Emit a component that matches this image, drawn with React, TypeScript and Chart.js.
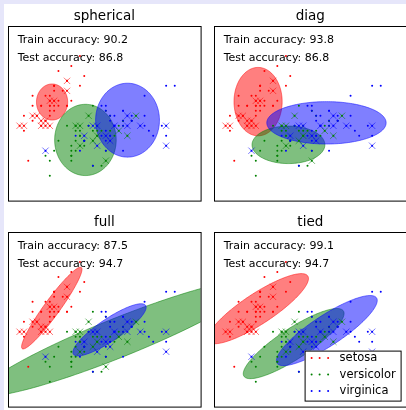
import React, { useEffect, useRef } from "react";
import { Chart, registerables } from "chart.js";
Chart.register(...registerables);

// ---------- data ----------
const classNames = ["setosa", "versicolor", "virginica"];
const classColors = ["#ff0000", "#008000", "#0000ff"];
const crossColors = ["rgba(255,0,0,0.6)", "rgba(0,128,0,0.6)", "rgba(0,0,255,0.6)"];
const ellipseColors = ["rgba(255,0,0,0.5)", "rgba(0,128,0,0.5)", "rgba(0,0,255,0.5)"];

// Iris sepal length / sepal width, per class
const setosaLength = [5.1,4.9,4.7,4.6,5.0,5.4,4.6,5.0,4.4,4.9,5.4,4.8,4.8,4.3,5.8,5.7,5.4,5.1,5.7,5.1,5.4,5.1,4.6,5.1,4.8,5.0,5.0,5.2,5.2,4.7,4.8,5.4,5.2,5.5,4.9,5.0,5.5,4.9,4.4,5.1,5.0,4.5,4.4,5.0,5.1,4.8,5.1,4.6,5.3,5.0];
const setosaWidth = [3.5,3.0,3.2,3.1,3.6,3.9,3.4,3.4,2.9,3.1,3.7,3.4,3.0,3.0,4.0,4.4,3.9,3.5,3.8,3.8,3.4,3.7,3.6,3.3,3.4,3.0,3.4,3.5,3.4,3.2,3.1,3.4,4.1,4.2,3.1,3.2,3.5,3.6,3.0,3.4,3.5,2.3,3.2,3.5,3.8,3.0,3.8,3.2,3.7,3.3];
const versicolorLength = [7.0,6.4,6.9,5.5,6.5,5.7,6.3,4.9,6.6,5.2,5.0,5.9,6.0,6.1,5.6,6.7,5.6,5.8,6.2,5.6,5.9,6.1,6.3,6.1,6.4,6.6,6.8,6.7,6.0,5.7,5.5,5.5,5.8,6.0,5.4,6.0,6.7,6.3,5.6,5.5,5.5,6.1,5.8,5.0,5.6,5.7,5.7,6.2,5.1,5.7];
const versicolorWidth = [3.2,3.2,3.1,2.3,2.8,2.8,3.3,2.4,2.9,2.7,2.0,3.0,2.2,2.9,2.9,3.1,3.0,2.7,2.2,2.5,3.2,2.8,2.5,2.8,2.9,3.0,2.8,3.0,2.9,2.6,2.4,2.4,2.7,2.7,3.0,3.4,3.1,2.3,3.0,2.5,2.6,3.0,2.6,2.3,2.7,3.0,2.9,2.9,2.5,2.8];
const virginicaLength = [6.3,5.8,7.1,6.3,6.5,7.6,4.9,7.3,6.7,7.2,6.5,6.4,6.8,5.7,5.8,6.4,6.5,7.7,7.7,6.0,6.9,5.6,7.7,6.3,6.7,7.2,6.2,6.1,6.4,7.2,7.4,7.9,6.4,6.3,6.1,7.7,6.3,6.4,6.0,6.9,6.7,6.9,5.8,6.8,6.7,6.7,6.3,6.5,6.2,5.9];
const virginicaWidth = [3.3,2.7,3.0,2.9,3.0,3.0,2.5,2.9,2.5,3.6,3.2,2.7,3.0,2.5,2.8,3.2,3.0,3.8,2.6,2.2,3.2,2.8,2.8,2.7,3.3,3.2,2.8,3.0,2.8,3.0,2.8,3.8,2.8,2.8,2.6,3.0,3.4,3.1,3.0,3.1,3.1,3.1,2.7,3.2,3.3,3.0,2.5,3.0,3.4,3.0];

// Test samples (crosses)
const setosaTestLength = [5.4,5.4,5.0,5.1,4.6,4.7,4.8,4.9,4.3,4.4,4.8,4.9,5.0];
const setosaTestWidth = [3.9,3.7,3.5,3.5,3.2,3.2,3.1,3.1,3.0,3.0,3.0,3.0,3.0];
const versicolorTestLength = [5.9,7.0,5.6,5.7,6.6,6.1,6.8,6.0,5.7,6.3];
const versicolorTestWidth = [3.2,3.2,3.0,3.0,2.9,2.8,2.8,2.7,2.6,2.3];
const virginicaTestLength = [4.9,5.8,6.0,6.1,6.1,6.3,6.4,6.5,6.8,6.8,7.1,7.7,7.7];
const virginicaTestWidth = [2.5,2.8,3.0,3.0,2.6,2.8,2.7,3.0,3.2,3.0,3.0,3.0,2.6];

// Models
const modelNames = ["spherical", "diag", "full", "tied"];
const trainAccuracy = [90.2, 93.8, 87.5, 99.1];
const testAccuracy = [86.8, 86.8, 94.7, 94.7];

// means [x, y] and covariances [varX, covXY, varY] per class
const sphericalMeans = [[5.053, 3.476], [5.827, 2.716], [6.804, 3.112]];
const sphericalCovs = [[0.0655, 0, 0.0655], [0.255, 0, 0.255], [0.2745, 0, 0.2745]];
const diagMeans = [[5.053, 3.484], [5.758, 2.618], [6.64, 3.059]];
const diagCovs = [[0.156, 0, 0.235], [0.357, 0, 0.0707], [0.959, 0, 0.0903]];
const fullMeans = [[5.046, 3.475], [6.576, 2.876], [6.386, 3.039]];
const fullCovs = [[0.2456, 0.272, 0.3356], [5.05, 1.718, 0.673], [0.3617, 0.192, 0.1368]];
const tiedMeans = [[5.053, 3.463], [5.879, 2.763], [6.649, 3.024]];
const tiedCov = [0.684, 0.353, 0.247];

const modelMeans = [sphericalMeans, diagMeans, fullMeans, tiedMeans];
const modelCovs = [sphericalCovs, diagCovs, fullCovs, [tiedCov, tiedCov, tiedCov]];

// axis limits
const xMin = 4.03, xMax = 8.5, yMin = 1.5, yMax = 5.0;

// ---------- helpers ----------
const trainLengths = [setosaLength, versicolorLength, virginicaLength];
const trainWidths = [setosaWidth, versicolorWidth, virginicaWidth];
const testLengths = [setosaTestLength, versicolorTestLength, virginicaTestLength];
const testWidths = [setosaTestWidth, versicolorTestWidth, virginicaTestWidth];

const FONT = "'DejaVu Sans', 'Liberation Sans', sans-serif";

function zip(xs: number[], ys: number[]) {
  return xs.map((x, i) => ({ x, y: ys[i] }));
}

function makePlugin(index: number, withLegend: boolean) {
  return {
    id: "gmmPanel" + index,
    beforeDatasetsDraw(chart: any) {
      const { ctx, chartArea, scales } = chart;
      const xs = scales.x, ys = scales.y;
      ctx.save();
      ctx.beginPath();
      ctx.rect(chartArea.left, chartArea.top, chartArea.right - chartArea.left, chartArea.bottom - chartArea.top);
      ctx.clip();
      const means = modelMeans[index];
      const covs = modelCovs[index];
      for (let k = 0; k < 3; k++) {
        const [mx, my] = means[k];
        const [cxx, cxy, cyy] = covs[k];
        const m11 = 2 * cxx, m12 = 2 * cxy, m22 = 2 * cyy;
        const a = Math.sqrt(m11);
        const b = m12 / a;
        const c = Math.sqrt(Math.max(m22 - b * b, 0));
        ctx.beginPath();
        const N = 180;
        for (let s = 0; s <= N; s++) {
          const t = (s / N) * Math.PI * 2;
          const dx = a * Math.cos(t);
          const dy = b * Math.cos(t) + c * Math.sin(t);
          const px = xs.getPixelForValue(mx + dx);
          const py = ys.getPixelForValue(my + dy);
          if (s === 0) ctx.moveTo(px, py);
          else ctx.lineTo(px, py);
        }
        ctx.closePath();
        ctx.fillStyle = ellipseColors[k];
        ctx.fill();
        ctx.strokeStyle = ellipseColors[k];
        ctx.lineWidth = 1;
        ctx.stroke();
      }
      ctx.restore();
    },
    afterDraw(chart: any) {
      const { ctx, chartArea } = chart;
      const w = chartArea.right - chartArea.left;
      const h = chartArea.bottom - chartArea.top;
      ctx.save();
      // frame
      ctx.strokeStyle = "#000";
      ctx.lineWidth = 1;
      ctx.strokeRect(chartArea.left + 0.5, chartArea.top + 0.5, w, h);
      // title
      ctx.fillStyle = "#000";
      ctx.textBaseline = "alphabetic";
      ctx.textAlign = "center";
      ctx.font = `13.5px ${FONT}`;
      ctx.fillText(modelNames[index], chartArea.left + w / 2, chartArea.top - 6.5);
      // accuracy texts
      ctx.textAlign = "left";
      ctx.font = `11px ${FONT}`;
      ctx.fillText("Train accuracy: " + trainAccuracy[index].toFixed(1), chartArea.left + 0.05 * w, chartArea.top + 0.1 * h);
      ctx.fillText("Test accuracy: " + testAccuracy[index].toFixed(1), chartArea.left + 0.05 * w, chartArea.top + 0.2 * h);
      // legend
      if (withLegend) {
        const right = chartArea.right - 6;
        const bottom = chartArea.bottom - 6;
        const left = right - 96;
        const top = bottom - 50;
        ctx.fillStyle = "#fff";
        ctx.fillRect(left, top, 96, 50);
        ctx.strokeStyle = "#000";
        ctx.strokeRect(left + 0.5, top + 0.5, 96, 50);
        ctx.font = `11.5px ${FONT}`;
        ctx.textBaseline = "middle";
        for (let k = 0; k < 3; k++) {
          const cy = top + 7.5 + k * 16.5;
          ctx.fillStyle = classColors[k];
          for (const dx of [7, 15, 23.5]) {
            ctx.beginPath();
            ctx.arc(left + dx, cy, 1, 0, Math.PI * 2);
            ctx.fill();
          }
          ctx.fillStyle = "#000";
          ctx.fillText(classNames[k], left + 35, cy);
        }
      }
      ctx.restore();
    },
  };
}

function Panel({ index, left, top }: { index: number; left: number; top: number }) {
  const ref = useRef<HTMLCanvasElement | null>(null);
  useEffect(() => {
    if (!ref.current) return;
    const datasets: any[] = [];
    // top-most first
    for (let k = 2; k >= 0; k--) {
      datasets.push({
        label: classNames[k] + " test",
        data: zip(testLengths[k], testWidths[k]),
        pointStyle: "crossRot",
        pointRadius: 4.5,
        borderColor: crossColors[k],
        backgroundColor: "rgba(0,0,0,0)",
        borderWidth: 0.9,
        clip: 0,
      });
    }
    for (let k = 2; k >= 0; k--) {
      datasets.push({
        label: classNames[k],
        data: zip(trainLengths[k], trainWidths[k]),
        pointStyle: "circle",
        pointRadius: 1,
        backgroundColor: classColors[k],
        borderWidth: 0,
        clip: 0,
      });
    }
    const chart = new Chart(ref.current, {
      type: "scatter",
      data: { datasets },
      options: {
        animation: false,
        responsive: false,
        devicePixelRatio: 1,
        events: [],
        layout: { padding: { left: 8, top: 26, right: 2, bottom: 2 } },
        scales: {
          x: { type: "linear", min: xMin, max: xMax, display: false },
          y: { type: "linear", min: yMin, max: yMax, display: false },
        },
        plugins: {
          legend: { display: false },
          tooltip: { enabled: false },
          title: { display: false },
        },
      },
      plugins: [makePlugin(index, index === 3)],
    } as any);
    return () => chart.destroy();
  }, [index]);
  return (
    <canvas
      ref={ref}
      width={206}
      height={206}
      style={{ position: "absolute", left, top, width: 206, height: 206 }}
    />
  );
}

export default function App() {
  return (
    <div
      style={{
        position: "fixed",
        left: 0,
        top: 0,
        width: 406,
        height: 410,
        overflow: "hidden",
        background: "#ffffff",
      }}
    >
      <div style={{ position: "absolute", left: 0, top: 0, width: 406, height: 4, background: "#e6e6fa" }} />
      <div style={{ position: "absolute", left: 0, top: 0, width: 4, height: 410, background: "#e6e6fa" }} />
      <Panel index={0} left={0} top={0} />
      <Panel index={1} left={206} top={0} />
      <Panel index={2} left={0} top={206} />
      <Panel index={3} left={206} top={206} />
    </div>
  );
}
